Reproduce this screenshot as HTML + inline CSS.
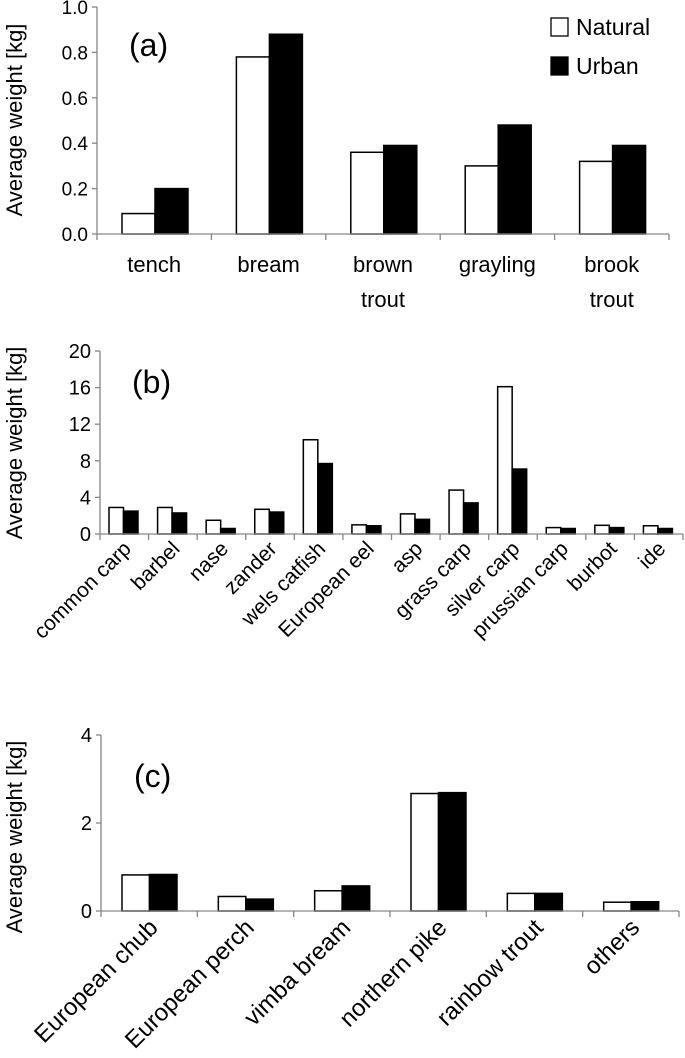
<!DOCTYPE html>
<html><head><meta charset="utf-8"><style>
html,body{margin:0;padding:0;background:#fff}
svg{display:block;font-family:"Liberation Sans",Arial,sans-serif}
</style></head><body>
<svg id="chart" width="685" height="1058" viewBox="0 0 685 1058"></svg>
<script>
const catsA = ["tench","bream","brown\ntrout","grayling","brook\ntrout"];
const natA = [0.09,0.78,0.36,0.30,0.32];
const urbA = [0.20,0.88,0.39,0.48,0.39];
const ticksA = ["0.0","0.2","0.4","0.6","0.8","1.0"];

const catsB = ["common carp","barbel","nase","zander","wels catfish","European eel","asp","grass carp","silver carp","prussian carp","burbot","ide"];
const natB = [2.9,2.9,1.5,2.7,10.3,1.0,2.2,4.8,16.1,0.7,0.95,0.9];
const urbB = [2.5,2.3,0.6,2.4,7.7,0.9,1.6,3.4,7.1,0.6,0.7,0.6];
const ticksB = ["0","4","8","12","16","20"];

const catsC = ["European chub","European perch","vimba bream","northern pike","rainbow trout","others"];
const natC = [0.82,0.33,0.46,2.67,0.40,0.20];
const urbC = [0.83,0.27,0.57,2.69,0.40,0.21];
const ticksC = ["0","2","4"];

const NS="http://www.w3.org/2000/svg";
const svg=document.getElementById('chart');
function mk(tag,attrs,parent){const e=document.createElementNS(NS,tag);for(const k in attrs)e.setAttribute(k,attrs[k]);(parent||svg).appendChild(e);return e;}

function panel(cfg){
  const g=mk('g',{});
  
  
  const {x0,x1,y0,y1,max,cats,nat,urb,ticks,off,bw,rot}=cfg;
  const n=cats.length, cw=(x1-x0)/n;
  const ys=v=>y0-(v/max)*(y0-y1);
  const ya=mk('line',{x1:x0,y1:y1,x2:x0,y2:y0,stroke:'#868686','stroke-width':1.3},g);
  
  
  ticks.forEach(t=>{
    const v=parseFloat(t), y=ys(v);
    mk('line',{x1:x0-5,y1:y,x2:x0,y2:y,stroke:'#868686','stroke-width':1.3},g);
    const tl=mk('text',{x:x0-9,y:y+7,'text-anchor':'end','font-size':cfg.tfs,fill:'#000'},g);
    tl.textContent=t;
    
    
  });
  for(let i=0;i<n;i++){
    const cx=x0+i*cw;
    const b1=mk('rect',{x:cx+off,y:ys(nat[i]),width:bw,height:y0-ys(nat[i]),fill:'#fff',stroke:'#000','stroke-width':1.5},g);
    
    
    const b2=mk('rect',{x:cx+off+bw,y:ys(urb[i]),width:bw,height:y0-ys(urb[i]),fill:'#000',stroke:'#000','stroke-width':1.5},g);
    
    
  }
  const xa=mk('line',{x1:x0,y1:y0,x2:x1,y2:y0,stroke:'#868686','stroke-width':1.3},g);
  
  
  for(let i=0;i<=n;i++){mk('line',{x1:x0+i*cw,y1:y0,x2:x0+i*cw,y2:y0+6,stroke:'#868686','stroke-width':1.3},g);}
  cats.forEach((c,i)=>{
    const cx=x0+(i+0.5)*cw;
    let t;
    if(rot){
      const ax=cx+cfg.lx, ay=y0+cfg.ly;
      t=mk('text',{x:ax,y:ay,'text-anchor':'end','font-size':cfg.xfs,transform:`rotate(-45 ${ax} ${ay})`},g);
      t.textContent=c;
    } else {
      t=mk('text',{x:cx,y:y0+38,'text-anchor':'middle','font-size':cfg.xfs},g);
      c.split('\n').forEach((line,k)=>{const s=mk('tspan',{x:cx,dy:k?35:0},t);s.textContent=line;});
    }
    
    
  });
  const yt=mk('text',{x:0,y:0,'text-anchor':'middle','font-size':22,transform:`translate(${cfg.tx} ${cfg.ty}) rotate(-90)`},g);
  yt.textContent='Average weight [kg]';
  
  
  const pl=mk('text',{x:cfg.px,y:cfg.py,'font-size':32},g);
  pl.textContent='('+cfg.id+')';
  
  
}

panel({id:'a',x0:97,x1:669,y0:234,y1:7,max:1.0,cats:catsA,nat:natA,urb:urbA,ticks:ticksA,off:25,bw:33,rot:false,tfs:19,xfs:22,tx:22,ty:120,px:129,py:56});
panel({id:'b',x0:100,x1:683,y0:534,y1:351,max:20,cats:catsB,nat:natB,urb:urbB,ticks:ticksB,off:9,bw:14.5,rot:true,tfs:20,xfs:21,lx:8,ly:16,tx:22,ty:443,px:132,py:393});
panel({id:'c',x0:101,x1:679,y0:911,y1:735,max:4,cats:catsC,nat:natC,urb:urbC,ticks:ticksC,off:21,bw:27.5,rot:true,tfs:20,xfs:24,lx:10,ly:18,tx:22,ty:837,px:134,py:787});

const lg=mk('g',{});


const l1=mk('rect',{x:551,y:18,width:17,height:18,fill:'#fff',stroke:'#000','stroke-width':1.3},lg);


const t1=mk('text',{x:576,y:35,'font-size':23},lg);t1.textContent='Natural';


const l2=mk('rect',{x:551,y:57,width:17,height:18,fill:'#000',stroke:'#000','stroke-width':1.3},lg);


const t2=mk('text',{x:576,y:74,'font-size':23},lg);t2.textContent='Urban';


</script>
</body></html>
